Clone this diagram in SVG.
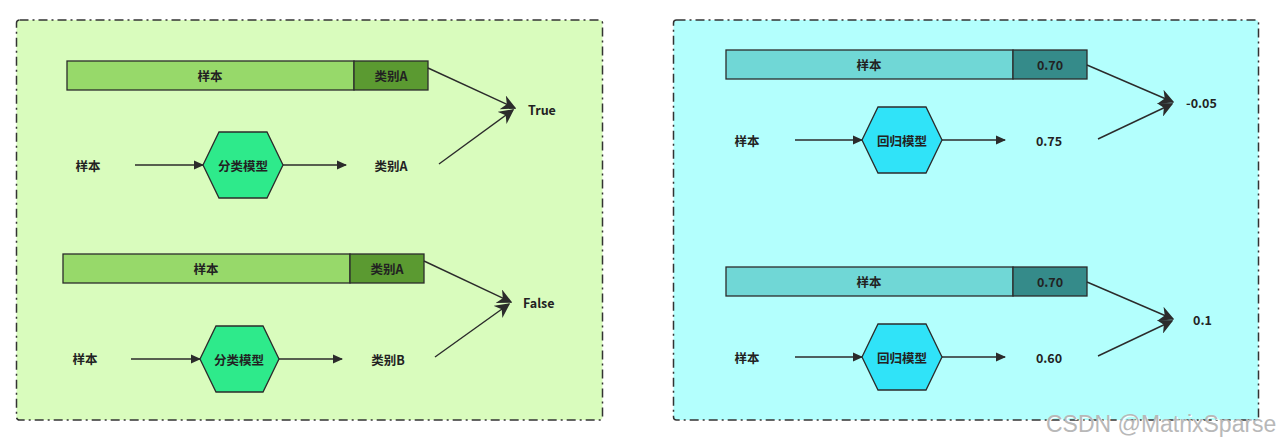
<svg xmlns="http://www.w3.org/2000/svg" width="1280" height="443" viewBox="0 0 1280 443">
<style>
.panel{stroke:#333;stroke-width:1.5;stroke-dasharray:9 4 2 4}
.t{font-family:"Noto Sans CJK SC","Liberation Sans",sans-serif;font-weight:bold;font-size:12.5px;fill:#222;text-anchor:middle;dominant-baseline:central}
.tl{font-family:"Noto Sans CJK SC","Liberation Sans",sans-serif;font-weight:bold;font-size:12.5px;fill:#222;dominant-baseline:central}
.bar{stroke:#2b2b2b;stroke-width:1.3}
.ln{stroke:#2b2b2b;stroke-width:1.4;fill:none}
.hex{stroke:#2b2b2b;stroke-width:1.3}
</style>
<defs>
<marker id="ah" viewBox="0 0 10 10" refX="9" refY="5" markerWidth="10" markerHeight="10" markerUnits="userSpaceOnUse" orient="auto">
<path d="M0,0.5 L10,5 L0,9.5 Z" fill="#2b2b2b"/>
</marker>
<marker id="ahb" viewBox="0 0 10 10" refX="9" refY="5" markerWidth="15" markerHeight="15" markerUnits="userSpaceOnUse" orient="auto">
<path d="M0,0 L10,5 L0,10 L3,5 Z" fill="#2b2b2b"/>
</marker>
</defs>
<rect width="1280" height="443" fill="#fff"/>
<rect id="panel-left" class="panel" x="16.5" y="20" width="586" height="400" rx="3" fill="#d9fcbd"/>
<rect id="panel-right" class="panel" x="673.5" y="20" width="585" height="400" rx="3" fill="#b3fffd"/>

<g id="bar-l1">
<rect class="bar" x="67" y="61" width="287" height="29" fill="#97d96a"/>
<rect class="bar" x="354" y="61" width="74" height="29" fill="#5b9a31"/>
<text class="t" x="210" y="75">样本</text>
<text class="t" x="391" y="75">类别A</text>
</g>
<g id="row-l1">
<text class="t" x="88" y="165">样本</text>
<polygon class="hex" points="203,165 219,132 267,132 283,165 267,198 219,198" fill="#2eea8b"/>
<text class="t" x="243" y="165">分类模型</text>
<text class="t" x="391" y="165">类别A</text>
<text class="tl" x="528" y="109">True</text>
</g>

<g id="bar-l2">
<rect class="bar" x="63" y="254" width="287" height="29" fill="#97d96a"/>
<rect class="bar" x="350" y="254" width="74" height="29" fill="#5b9a31"/>
<text class="t" x="206" y="268">样本</text>
<text class="t" x="387" y="268">类别A</text>
</g>
<g id="row-l2">
<text class="t" x="85" y="358">样本</text>
<polygon class="hex" points="200,359 216,326 263,326 279,359 263,392 216,392" fill="#2eea8b"/>
<text class="t" x="239" y="359">分类模型</text>
<text class="t" x="388" y="359">类别B</text>
<text class="tl" x="523" y="302">False</text>
</g>

<g id="bar-r1">
<rect class="bar" x="726" y="50" width="287" height="29" fill="#70d7d6"/>
<rect class="bar" x="1013" y="50" width="74" height="29" fill="#358b8a"/>
<text class="t" x="869" y="64">样本</text>
<text class="t" x="1050" y="64">0.70</text>
</g>
<g id="row-r1">
<text class="t" x="747" y="140">样本</text>
<polygon class="hex" points="862,140 878,107 926,107 942,140 926,173 878,173" fill="#30e3f8"/>
<text class="t" x="902" y="140">回归模型</text>
<text class="t" x="1049" y="140">0.75</text>
<text class="tl" x="1186" y="102">-0.05</text>
</g>

<g id="bar-r2">
<rect class="bar" x="726" y="267" width="287" height="29" fill="#70d7d6"/>
<rect class="bar" x="1013" y="267" width="74" height="29" fill="#358b8a"/>
<text class="t" x="869" y="281">样本</text>
<text class="t" x="1050" y="281">0.70</text>
</g>
<g id="row-r2">
<text class="t" x="747" y="357">样本</text>
<polygon class="hex" points="862,357 878,324 926,324 942,357 926,390 878,390" fill="#30e3f8"/>
<text class="t" x="902" y="357">回归模型</text>
<text class="t" x="1049" y="357">0.60</text>
<text class="tl" x="1193" y="319">0.1</text>
</g>

<g id="connectors">
<line class="ln" x1="135" y1="165" x2="203" y2="165" marker-end="url(#ah)"/>
<line class="ln" x1="283" y1="165" x2="346" y2="165" marker-end="url(#ah)"/>
<line class="ln" x1="428" y1="68" x2="515" y2="108" marker-end="url(#ahb)"/>
<line class="ln" x1="439" y1="164" x2="513" y2="110" marker-end="url(#ahb)"/>

<line class="ln" x1="131" y1="359" x2="200" y2="359" marker-end="url(#ah)"/>
<line class="ln" x1="279" y1="359" x2="342" y2="359" marker-end="url(#ah)"/>
<line class="ln" x1="424" y1="261" x2="511" y2="302" marker-end="url(#ahb)"/>
<line class="ln" x1="435" y1="357" x2="509" y2="304" marker-end="url(#ahb)"/>

<line class="ln" x1="795" y1="140" x2="862" y2="140" marker-end="url(#ah)"/>
<line class="ln" x1="942" y1="140" x2="1005" y2="140" marker-end="url(#ah)"/>
<line class="ln" x1="1087" y1="65" x2="1173" y2="102" marker-end="url(#ahb)"/>
<line class="ln" x1="1098" y1="139" x2="1172" y2="104" marker-end="url(#ahb)"/>

<line class="ln" x1="795" y1="357" x2="862" y2="357" marker-end="url(#ah)"/>
<line class="ln" x1="942" y1="357" x2="1005" y2="357" marker-end="url(#ah)"/>
<line class="ln" x1="1087" y1="282" x2="1173" y2="319" marker-end="url(#ahb)"/>
<line class="ln" x1="1098" y1="356" x2="1172" y2="321" marker-end="url(#ahb)"/>
</g>

<text x="1046" y="432" font-family="Liberation Sans, sans-serif" font-size="23" fill="#ffffff" opacity="0.9" transform="translate(1,1)">CSDN @MatrixSparse</text>
<text x="1046" y="432" font-family="Liberation Sans, sans-serif" font-size="23" fill="#b8b8b8">CSDN @MatrixSparse</text>
</svg>
